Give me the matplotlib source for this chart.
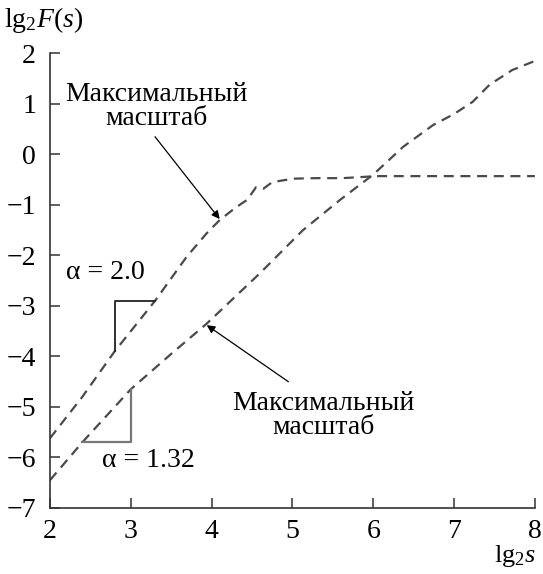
import matplotlib
matplotlib.use("Agg")
import matplotlib.pyplot as plt
import numpy as np

plt.rcParams['font.family'] = ['Liberation Serif', 'DejaVu Serif']
plt.rcParams['mathtext.fontset'] = 'custom'
plt.rcParams['mathtext.rm'] = 'Liberation Serif'
plt.rcParams['mathtext.it'] = 'Liberation Serif:italic'

# Upper curve (max scale ~ 4.6)
x_upper = [2.0, 2.4, 2.8, 3.3, 3.69, 3.94, 4.1, 4.3, 4.44, 4.55, 4.64, 4.75, 5.01, 5.3, 5.62, 6.04, 6.5, 7.0, 7.5, 8.0]
y_upper = [-5.62, -4.8, -3.9, -2.9, -2.03, -1.56, -1.3, -1.05, -0.9, -0.65, -0.68, -0.55, -0.48, -0.47, -0.47, -0.43, -0.43, -0.43, -0.43, -0.43]

# Lower curve
x_lower = [2.0, 2.4, 3.0, 3.5, 3.94, 4.6, 5.13, 5.59, 6.0, 6.37, 6.74, 7.0, 7.23, 7.44, 7.72, 8.0]
y_lower = [-6.45, -5.7, -4.65, -3.95, -3.35, -2.35, -1.5, -0.9, -0.4, 0.15, 0.58, 0.8, 1.04, 1.38, 1.67, 1.85]

x_ticks = [2, 3, 4, 5, 6, 7, 8]
y_ticks = [-7, -6, -5, -4, -3, -2, -1, 0, 1, 2]

FS = 20

fig = plt.figure(figsize=(5.43, 5.74), dpi=100)
ax = fig.add_axes([0.092, 0.115, 0.893, 0.792])

ax.plot(x_upper, y_upper, color='#4a4a4a', lw=1.6, linestyle=(0, (4.5, 3)))
ax.plot(x_lower, y_lower, color='#4a4a4a', lw=1.6, linestyle=(0, (4.5, 3)))

# slope triangles
ax.plot([2.8, 2.8, 3.3], [-3.9, -2.9, -2.9], color='#222222', lw=1.3)
ax.plot([2.4, 3.0, 3.0], [-5.7, -5.7, -4.65], color='#777777', lw=1.6)

ax.text(2.68, -2.33, 'α = 2.0', fontsize=FS, ha='center', va='center')
ax.text(3.22, -6.05, 'α = 1.32', fontsize=FS, ha='center', va='center')

ax.text(3.32, 0.94, 'Максимальный\nмасштаб', fontsize=FS, ha='center', va='center',
        multialignment='center', linespacing=0.95)
ax.annotate('', xy=(4.1, -1.28), xytext=(3.30, 0.35),
            arrowprops=dict(arrowstyle='-|>', color='black', lw=0.9,
                            shrinkA=0, shrinkB=0, mutation_scale=12))
ax.text(5.38, -5.16, 'Максимальный\nмасштаб', fontsize=FS, ha='center', va='center',
        multialignment='center', linespacing=0.95)
ax.annotate('', xy=(3.94, -3.38), xytext=(4.95, -4.5),
            arrowprops=dict(arrowstyle='-|>', color='black', lw=0.9,
                            shrinkA=0, shrinkB=0, mutation_scale=12))

ax.set_xlim(2, 8)
ax.set_ylim(-7, 2)
ax.set_xticks(x_ticks)
ax.set_yticks(y_ticks)
ax.set_yticklabels([str(v).replace('-', '\u2212') for v in y_ticks])
ax.spines['top'].set_visible(False)
ax.spines['right'].set_visible(False)
for s in ['left', 'bottom']:
    ax.spines[s].set_color('#333333')
    ax.spines[s].set_linewidth(1.2)
ax.tick_params(direction='in', length=7, width=1.1, color='#333333', labelsize=FS)
ax.tick_params(axis='y', pad=10)
ax.tick_params(axis='x', pad=8)

fig.text(0.008, 0.965, r'$\mathrm{lg}_2F(s)$', fontsize=FS, ha='left', va='center')
fig.text(0.988, 0.008, r'$\mathrm{lg}_2s$', fontsize=19, ha='right', va='bottom')

fig.savefig('out.png', dpi=100)
